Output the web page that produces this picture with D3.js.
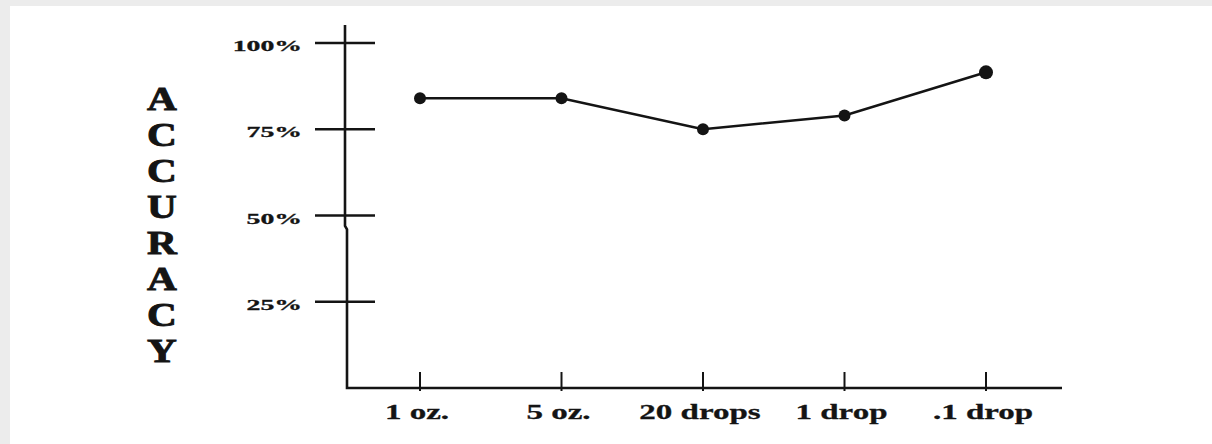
<!DOCTYPE html>
<html>
<head>
<meta charset="utf-8">
<script src="https://cdn.jsdelivr.net/npm/d3@7"></script>
<style>
  html, body { margin: 0; padding: 0; background: #ececec; }
  svg { display: block; }
</style>
</head>
<body>
<svg id="chart" width="1212" height="444"></svg>
<script>
// ---- data ----
const categories = ["1 oz.", "5 oz.", "20 drops", "1 drop", ".1 drop"];
const accuracy = [84, 84, 75, 79, 91.5];
const yTicks = [25, 50, 75, 100];
const yTickLabels = ["25%", "50%", "75%", "100%"];
const yTitle = "ACCURACY";

// ---- layout ----
const svg = d3.select("#chart");
const ink = "#141414";
const serif = "'Liberation Serif', 'DejaVu Serif', serif";

svg.append("rect").attr("x", 10).attr("y", 6).attr("width", 1202).attr("height", 438).attr("fill", "#ffffff");

const x = d3.scalePoint().domain(categories).range([420, 986]);
const y = d3.scaleLinear().domain([0, 100]).range([388, 43]);

// axis frame (vertical + horizontal)
svg.append("path")
  .attr("d", `M345,25 V${y(47)} L347,${y(46)} V${y(0)} H1062`)
  .attr("fill", "none").attr("stroke", ink).attr("stroke-width", 2.6);

// y ticks crossing the axis
svg.selectAll("line.ytick").data(yTicks).join("line")
  .attr("class", "ytick")
  .attr("x1", 315).attr("x2", 375)
  .attr("y1", d => y(d)).attr("y2", d => y(d))
  .attr("stroke", ink).attr("stroke-width", 2.6);

// y tick labels (wide bold serif)
svg.selectAll("g.ylab").data(yTicks).join("g")
  .attr("class", "ylab")
  .attr("transform", d => `translate(302,${y(d) + 8}) scale(1.85,1)`)
  .append("text")
  .attr("text-anchor", "end")
  .attr("font-family", serif).attr("font-weight", "bold").attr("font-size", 15)
  .attr("fill", ink).attr("stroke", ink).attr("stroke-width", 0.3)
  .text((d, i) => yTickLabels[i]);

// x ticks
svg.selectAll("line.xtick").data(categories).join("line")
  .attr("class", "xtick")
  .attr("x1", d => x(d)).attr("x2", d => x(d))
  .attr("y1", y(0) - 16).attr("y2", y(0) + 3)
  .attr("stroke", ink).attr("stroke-width", 2);

// x labels
svg.selectAll("g.xlab").data(categories).join("g")
  .attr("class", "xlab")
  .attr("transform", d => `translate(${x(d) - 3},419) scale(1.5,1)`)
  .append("text")
  .attr("text-anchor", "middle")
  .attr("font-family", serif).attr("font-weight", "bold").attr("font-size", 22)
  .attr("fill", ink).attr("stroke", ink).attr("stroke-width", 0.3)
  .text(d => d);

// vertical stacked title
const title = svg.append("g").attr("transform", "translate(162,0) scale(1.25,1)")
  .append("text")
  .attr("font-family", serif).attr("font-weight", "bold").attr("font-size", 33)
  .attr("fill", ink).attr("stroke", ink).attr("stroke-width", 0.9)
  .attr("text-anchor", "middle");
title.selectAll("tspan").data(yTitle.split("")).join("tspan")
  .attr("x", 0)
  .attr("y", (d, i) => 110 + i * 36)
  .text(d => d);

// line + markers
const line = d3.line().x((d, i) => x(categories[i])).y(d => y(d));
svg.append("path").datum(accuracy)
  .attr("d", line)
  .attr("fill", "none").attr("stroke", ink).attr("stroke-width", 2.6);

svg.selectAll("circle.pt").data(accuracy).join("circle")
  .attr("class", "pt")
  .attr("cx", (d, i) => x(categories[i]))
  .attr("cy", d => y(d))
  .attr("r", (d, i) => i === accuracy.length - 1 ? 7 : 6)
  .attr("fill", ink);
</script>
</body>
</html>
